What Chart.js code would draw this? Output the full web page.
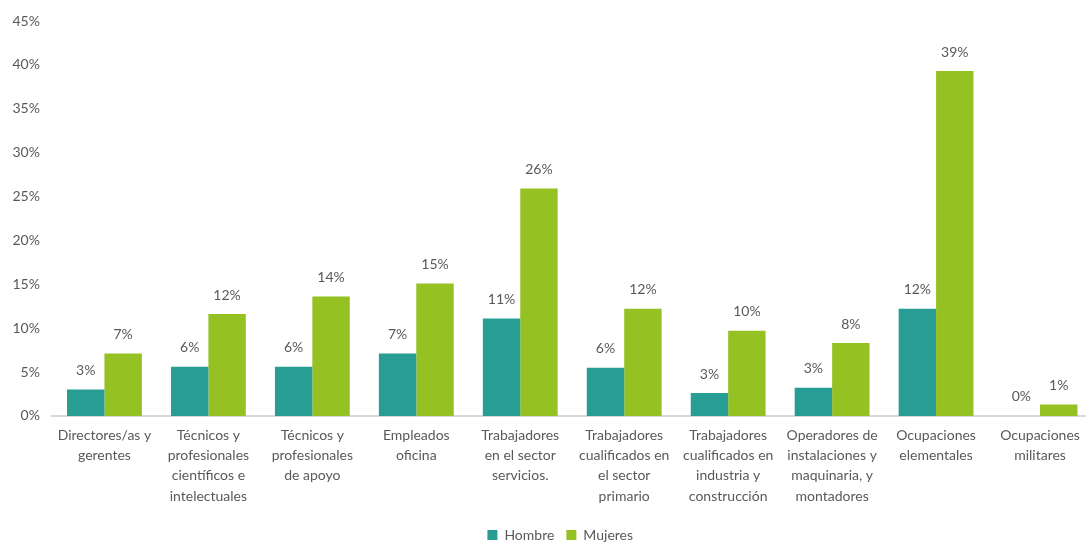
<!DOCTYPE html>
<html lang="es">
<head>
<meta charset="utf-8">
<title>Ocupaciones por sexo</title>
<script src="https://cdn.jsdelivr.net/npm/chart.js@4/dist/chart.umd.min.js"></script>
<style>
  html, body { margin: 0; padding: 0; background: #fff; overflow: hidden; }
  #wrap { width: 1086px; height: 546px; overflow: hidden; }
</style>
</head>
<body>
<div id="wrap"><canvas id="ocupChart" width="1092" height="554"></canvas></div>
<script>
// Categorías (etiquetas en varias líneas)
const categorias = [
  ["Directores/as y", "gerentes"],
  ["Técnicos y", "profesionales", "científicos e", "intelectuales"],
  ["Técnicos y", "profesionales", "de apoyo"],
  ["Empleados", "oficina"],
  ["Trabajadores", "en el sector", "servicios."],
  ["Trabajadores", "cualificados en", "el sector", "primario"],
  ["Trabajadores", "cualificados en", "industria y", "construcción"],
  ["Operadores de", "instalaciones y", "maquinaria, y", "montadores"],
  ["Ocupaciones", "elementales"],
  ["Ocupaciones", "militares"]
];

// Porcentajes por sexo
const hombre  = [3.0, 5.6, 5.6, 7.1, 11.1, 5.5, 2.6, 3.2, 12.2, 0.0];
const mujeres = [7.1, 11.6, 13.6, 15.1, 25.9, 12.2, 9.7, 8.3, 39.3, 1.3];

const colorHombre = "#289d94";
const colorMujeres = "#95c123";
const textColor = "#595959";
const fontFamily = "Lato, 'Open Sans', sans-serif";

// Etiquetas de valor encima de cada barra
const etiquetasValor = {
  id: "etiquetasValor",
  afterDatasetsDraw(chart) {
    const ctx = chart.ctx;
    ctx.save();
    ctx.font = "14px " + fontFamily;
    ctx.fillStyle = textColor;
    ctx.textAlign = "center";
    ctx.textBaseline = "bottom";
    chart.data.datasets.forEach((ds, i) => {
      const meta = chart.getDatasetMeta(i);
      meta.data.forEach((bar, j) => {
        ctx.fillText(Math.round(ds.data[j]) + "%", bar.x, bar.y - 12);
      });
    });
    ctx.restore();
  }
};

// Centra la leyenda bajo el área de gráfico en vez de bajo el lienzo
const leyendaCentrada = {
  id: "leyendaCentrada",
  afterLayout(chart) {
    const lg = chart.legend;
    const dx = (chart.chartArea.left + chart.chartArea.right) / 2 - (lg.left + lg.right) / 2 - 12;
    lg.left += dx;
    lg.right += dx;
  }
};

new Chart(document.getElementById("ocupChart"), {
  type: "bar",
  data: {
    labels: categorias,
    datasets: [
      {
        label: "Hombre",
        data: hombre,
        backgroundColor: colorHombre,
        borderWidth: 0,
        categoryPercentage: 0.72,
        barPercentage: 1.0
      },
      {
        label: "Mujeres",
        data: mujeres,
        backgroundColor: colorMujeres,
        borderWidth: 0,
        categoryPercentage: 0.72,
        barPercentage: 1.0
      }
    ]
  },
  options: {
    responsive: false,
    animation: false,
    layout: { padding: { top: 21, left: 0, right: 0, bottom: 2 } },
    plugins: {
      legend: {
        position: "bottom",
        labels: {
          color: textColor,
          font: { family: fontFamily, size: 14 },
          boxWidth: 10,
          boxHeight: 10,
          padding: 12
        }
      },
      tooltip: { enabled: false }
    },
    scales: {
      x: {
        grid: { display: false, drawTicks: false },
        border: { display: true, color: "#d9d9d9", width: 2 },
        ticks: {
          color: textColor,
          font: { family: fontFamily, size: 14, lineHeight: 1.43 },
          padding: 10,
          maxRotation: 0,
          autoSkip: false
        }
      },
      y: {
        min: 0,
        max: 45,
        grid: { display: false, drawTicks: false },
        border: { display: false },
        ticks: {
          stepSize: 5,
          color: textColor,
          font: { family: fontFamily, size: 14 },
          padding: 12.5,
          callback: v => v + "%"
        }
      }
    }
  },
  plugins: [etiquetasValor, leyendaCentrada]
});
</script>
</body>
</html>
